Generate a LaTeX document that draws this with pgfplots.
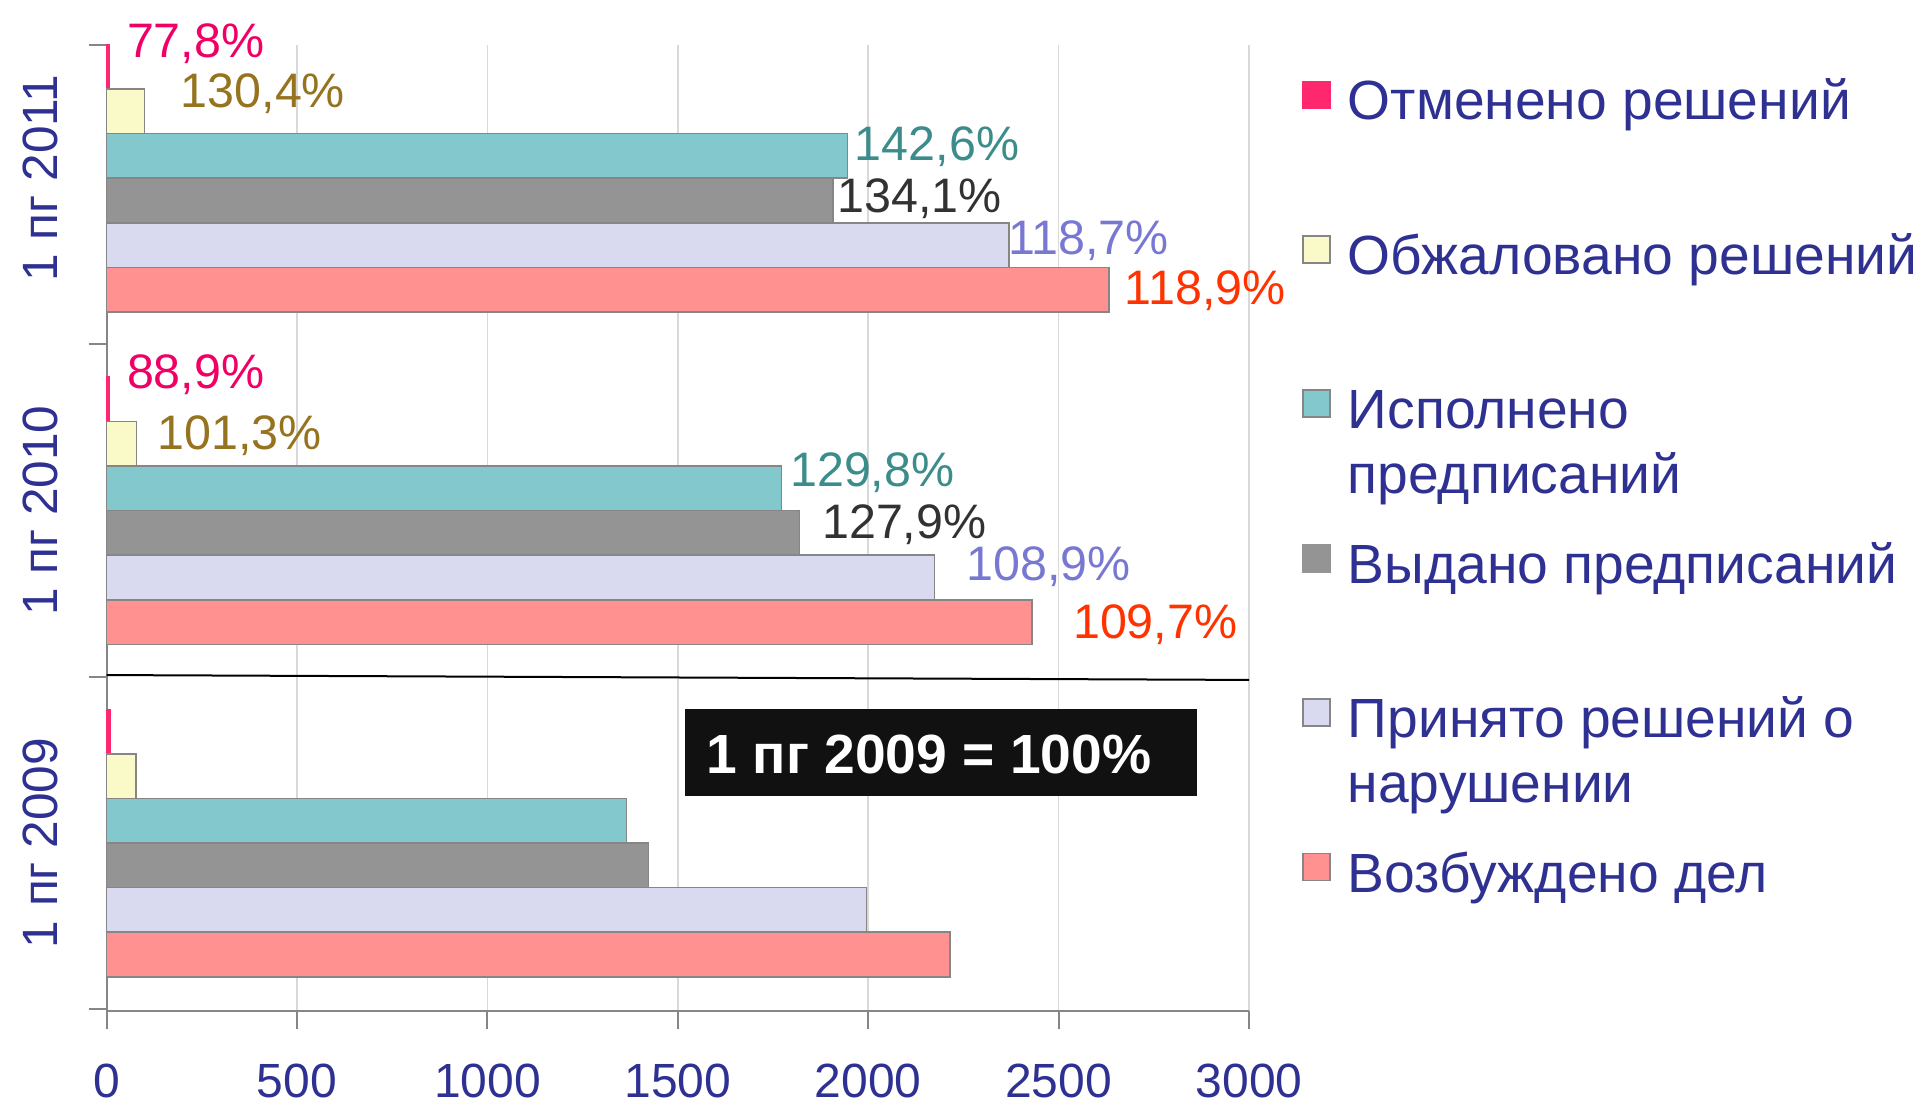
\documentclass[border=0pt]{standalone}
\usepackage{fontspec}
\setmainfont{Liberation Sans}
\usepackage{pgfplots}
\pgfplotsset{compat=1.18}

\definecolor{navy}{RGB}{46,49,146}
\definecolor{axgray}{RGB}{134,134,134}
\definecolor{cpink}{RGB}{255,40,110}
\definecolor{cyellow}{RGB}{250,250,200}
\definecolor{cteal}{RGB}{130,200,205}
\definecolor{cgray}{RGB}{148,148,148}
\definecolor{clav}{RGB}{217,217,240}
\definecolor{csalmon}{RGB}{255,145,145}
\definecolor{lpink}{RGB}{240,0,100}
\definecolor{lyellow}{RGB}{150,115,30}
\definecolor{lteal}{RGB}{60,140,140}
\definecolor{lgray}{RGB}{50,50,50}
\definecolor{llav}{RGB}{120,120,210}
\definecolor{lsalmon}{RGB}{255,50,0}
\definecolor{boxblack}{RGB}{17,17,17}

\newcommand\lab[4]{\node[anchor=west,inner sep=0pt,text=#1,font=\fontsize{12.1}{15}\selectfont] at (axis cs:#2,#3) {#4};}
\newcommand\legmark[3]{\fill[#1,draw=#2,line width=0.4pt] (325.75pt,#3pt-3.375pt) rectangle (332.5pt,#3pt+3.375pt);}

\begin{document}
\begin{tikzpicture}
\path[use as bounding box] (0,0) rectangle (480.5pt,276pt);
\begin{axis}[
  at={(26.65pt,23.18pt)}, anchor=south west,
  scale only axis, width=285.6pt, height=241.5pt,
  xmin=0, xmax=3000, ymin=-0.506, ymax=2.40,
  axis x line*=bottom, axis y line*=left,
  axis line style={draw=axgray,line width=0.5pt,-},
  tick style={draw=axgray,line width=0.5pt},
  tick align=outside, major tick length=4.5pt,
  xtick={0,500,...,3000},
  xmajorgrids, grid style={draw=black!15,line width=0.4pt},
  ytick={-0.5,0.5,1.5,2.4}, yticklabels={},
  extra y ticks={0,1,2},
  extra y tick labels={1 пг 2009,1 пг 2010,1 пг 2011},
  extra y tick style={major tick length=0pt,
    yticklabel style={xshift=-16.6pt,rotate=90,anchor=center}},
  /pgf/number format/assume math mode=true,
  /pgf/number format/set thousands separator={},
  ticklabel style={text=navy},
  xticklabel style={anchor=center,yshift=-12.8pt,font=\fontsize{12}{14}\selectfont},
  yticklabel style={font=\fontsize{12.4}{15}\selectfont},
  xbar, bar width=0.134,
  clip=false,
]
\addplot[fill=cpink,draw=cpink,line width=0.4pt,bar shift=0.335] coordinates {(9,0) (8,1) (7,2)};
\addplot[fill=cyellow,draw=axgray,line width=0.4pt,bar shift=0.201] coordinates {(77,0) (78,1) (100,2)};
\addplot[fill=cteal,draw=axgray,line width=0.4pt,bar shift=0.067] coordinates {(1365,0) (1772,1) (1946,2)};
\addplot[fill=cgray,draw=axgray,line width=0.4pt,bar shift=-0.067] coordinates {(1423,0) (1820,1) (1908,2)};
\addplot[fill=clav,draw=axgray,line width=0.4pt,bar shift=-0.201] coordinates {(1996,0) (2174,1) (2369,2)};
\addplot[fill=csalmon,draw=axgray,line width=0.4pt,bar shift=-0.335] coordinates {(2215,0) (2430,1) (2633,2)};

\draw[black,line width=0.5pt] (axis cs:0,0.5055) -- (axis cs:3000,0.4908);

\lab{lpink}{51.5}{2.406}{77,8\%}
\lab{lyellow}{193}{2.255}{130,4\%}
\lab{lteal}{1963}{2.096}{142,6\%}
\lab{lgray}{1918}{1.937}{134,1\%}
\lab{llav}{2366}{1.812}{118,7\%}
\lab{lsalmon}{2672}{1.661}{118,9\%}
\lab{lpink}{51.5}{1.410}{88,9\%}
\lab{lyellow}{132}{1.225}{101,3\%}
\lab{lteal}{1793}{1.114}{129,8\%}
\lab{lgray}{1877}{0.959}{127,9\%}
\lab{llav}{2256}{0.830}{108,9\%}
\lab{lsalmon}{2536}{0.657}{109,7\%}

\fill[boxblack] (axis cs:1518,0.402) rectangle (axis cs:2864,0.142);
\node[text=white,inner sep=0pt,font=\bfseries\fontsize{13.8}{16}\selectfont] at (axis cs:2160,0.266) {1 пг 2009 = 100\%};
\end{axis}

\legmark{cpink}{cpink}{252.25}
\legmark{cyellow}{axgray}{213.65}
\legmark{cteal}{axgray}{175.05}
\legmark{cgray}{cgray}{136.45}
\legmark{clav}{axgray}{97.85}
\legmark{csalmon}{axgray}{59.25}
\begin{scope}[every node/.style={anchor=base west,inner sep=0pt,text=navy,font=\fontsize{13.8}{16}\selectfont}]
\node at (336.75pt,246pt) {Отменено решений};
\node at (336.75pt,207.4pt) {Обжаловано решений};
\node at (336.75pt,168.8pt) {Исполнено};
\node at (336.75pt,152.55pt) {предписаний};
\node at (336.75pt,130.2pt) {Выдано предписаний};
\node at (336.75pt,91.6pt) {Принято решений о};
\node at (336.75pt,75.35pt) {нарушении};
\node at (336.75pt,53pt) {Возбуждено дел};
\end{scope}
\end{tikzpicture}
\end{document}
